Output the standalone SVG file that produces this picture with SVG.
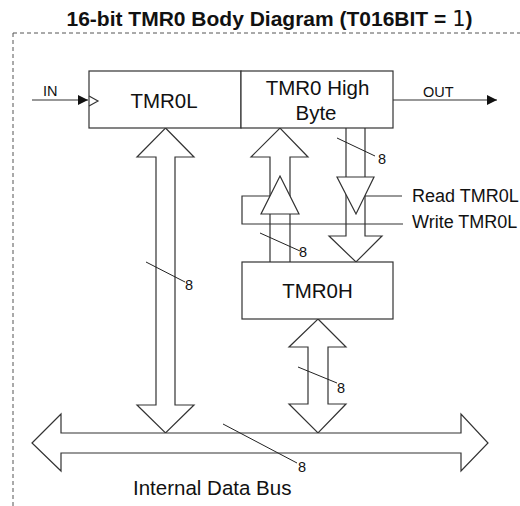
<svg xmlns="http://www.w3.org/2000/svg" width="520" height="506" viewBox="0 0 520 506">
<defs>
<style>
.box{fill:#fff;stroke:#333;stroke-width:1.2}
.ln{fill:none;stroke:#333;stroke-width:1.2}
.blk{fill:#fff;stroke:#333;stroke-width:1.2;stroke-linejoin:miter}
.sl{fill:none;stroke:#222;stroke-width:1}
.t{font-family:"Liberation Sans",Arial,sans-serif;fill:#111}
.big{font-size:20.5px}
.mid{font-size:18px}
.sm{font-size:14.5px}
</style>
<marker id="ah" viewBox="0 0 10 10" refX="10" refY="5" markerWidth="16" markerHeight="10" markerUnits="userSpaceOnUse" orient="auto">
<path d="M0,0 L10,5 L0,10 z" fill="#111"/>
</marker>
</defs>
<rect width="520" height="506" fill="#fff"/>
<g id="title">
<text class="t" x="269.5" y="26" text-anchor="middle" font-size="21" font-weight="bold">16-bit TMR0 Body Diagram (T016BIT = <tspan font-family="'DejaVu Sans',sans-serif" font-weight="normal">1</tspan>)</text>
</g>
<g id="frame">
<path d="M13,33 H520 M13,33 V506" fill="none" stroke="#555" stroke-width="1" stroke-dasharray="4,3"/>
</g>
<g id="connectors">
<path class="blk" d="M165.5,128 L194,157 L175,157 L175,405 L194,405 L165.5,433 L137,405 L156,405 L156,157 L137,157 Z"/>
<path class="blk" d="M318,319 L346,347 L328,347 L328,404 L346,404 L318,433 L289,404 L308,404 L308,347 L289,347 Z"/>
<path class="blk" d="M32,443 L61,414 L61,433 L461,433 L461,414 L488,443 L461,471 L461,453 L61,453 L61,471 Z"/>
<path class="blk" d="M270,262 L270,157 L251,157 L280,128 L308,157 L290,157 L290,262"/>
<path class="blk" d="M346,128 L346,236 L329,236 L356,262 L382,236 L365,236 L365,128"/>
<path class="ln" d="M270,196 H242 V224 H403"/>
<path class="ln" d="M365,196 H402"/>
<path class="ln" d="M32,100 H88" marker-end="url(#ah)"/>
<path class="ln" d="M393,100 H497" marker-end="url(#ah)"/>
<path class="sl" d="M337,138 L375,156 M260,233 L300,251 M146,262 L185,282 M298,367 L337,383 M223,424 L297,463"/>
<text class="t sm" x="378" y="164">8</text>
<text class="t sm" x="299" y="257">8</text>
<text class="t sm" x="185" y="290">8</text>
<text class="t sm" x="337" y="393">8</text>
<text class="t sm" x="298" y="472">8</text>
<text class="t sm" x="43" y="96">IN</text>
<text class="t sm" x="423" y="97">OUT</text>
</g>
<g id="tmr0l">
<rect class="box" x="89" y="71" width="152" height="57"/>
<path class="ln" d="M89,96 L98,101 L89,106"/>
<text class="t big" x="164" y="108" text-anchor="middle">TMR0L</text>
</g>
<g id="tmr0-high-byte">
<rect class="box" x="241" y="71" width="152" height="57"/>
<text class="t big" x="317.5" y="95" text-anchor="middle">TMR0 High</text>
<text class="t big" x="316" y="120" text-anchor="middle">Byte</text>
</g>
<g id="write-buffer">
<path class="blk" d="M280,176 L299,214 L261,214 Z"/>
<text class="t mid" x="412" y="228">Write TMR0L</text>
</g>
<g id="read-buffer">
<path class="blk" d="M337,177 L374,177 L356,214 Z"/>
<text class="t mid" x="412" y="202">Read TMR0L</text>
</g>
<g id="tmr0h">
<rect class="box" x="242" y="262" width="151" height="57"/>
<text class="t big" x="317.5" y="298" text-anchor="middle">TMR0H</text>
</g>
<g id="bus-label">
<text class="t big" x="133" y="495">Internal Data Bus</text>
</g>
</svg>
